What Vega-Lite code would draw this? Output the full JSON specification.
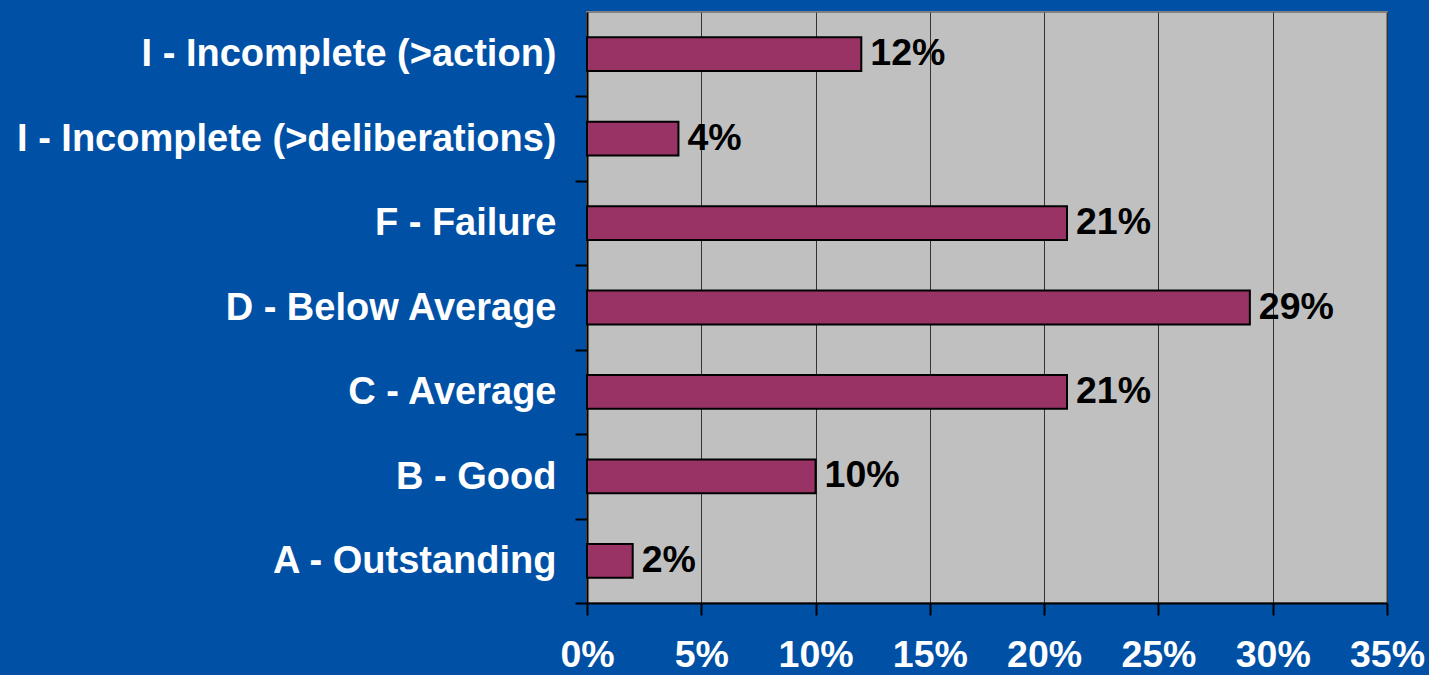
{
  "$schema": "https://vega.github.io/schema/vega-lite/v6.json",
  "autosize": {"type": "none"},
  "width": 800,
  "height": 591,
  "padding": {"left": 587, "top": 12, "right": 42, "bottom": 72},
  "background": "#0050A6",
  "config": {
    "view": {"fill": "#C0C0C0", "stroke": "#808080", "strokeWidth": 2},
    "font": "Liberation Sans"
  },
  "data": {
    "values": [
      {"grade": "I - Incomplete (>action)", "share": 0.12},
      {"grade": "I - Incomplete (>deliberations)", "share": 0.04},
      {"grade": "F - Failure", "share": 0.21},
      {"grade": "D - Below Average", "share": 0.29},
      {"grade": "C - Average", "share": 0.21},
      {"grade": "B - Good", "share": 0.10},
      {"grade": "A - Outstanding", "share": 0.02}
    ]
  },
  "encoding": {
    "y": {
      "field": "grade",
      "type": "nominal",
      "sort": null,
      "scale": {"paddingInner": 0.6, "paddingOuter": 0.3},
      "axis": {
        "title": null,
        "tickOffset": 42.2,
        "labelOffset": -41.5,
        "labelFont": "Liberation Sans",
        "labelFontWeight": "bold",
        "labelFontSize": 38,
        "labelColor": "#FFFFFF",
        "labelPadding": 19,
        "labelLimit": 700,
        "tickSize": 12,
        "tickColor": "#000000",
        "tickWidth": 2,
        "domainColor": "#000000",
        "domainWidth": 2,
        "grid": false
      }
    },
    "x": {
      "field": "share",
      "type": "quantitative",
      "scale": {"domain": [0, 0.35], "nice": false},
      "axis": {
        "title": null,
        "values": [0, 0.05, 0.1, 0.15, 0.2, 0.25, 0.3, 0.35],
        "format": ".0%",
        "labelFont": "Liberation Sans",
        "labelFontWeight": "bold",
        "labelFontSize": 37.5,
        "labelColor": "#FFFFFF",
        "labelPadding": 21,
        "labelFlush": false,
        "tickSize": 12,
        "tickColor": "#000000",
        "tickWidth": 2,
        "domainColor": "#000000",
        "domainWidth": 2,
        "grid": true,
        "gridColor": "#333333",
        "gridWidth": 1,
        "gridOpacity": 1
      }
    }
  },
  "layer": [
    {
      "mark": {"type": "bar", "fill": "#993366", "stroke": "#000000", "strokeWidth": 2}
    },
    {
      "mark": {
        "type": "text",
        "align": "left",
        "baseline": "middle",
        "dx": 9,
        "font": "Liberation Sans",
        "fontWeight": "bold",
        "fontSize": 37.5,
        "color": "#000000"
      },
      "encoding": {
        "text": {"field": "share", "type": "quantitative", "format": ".0%"}
      }
    }
  ]
}
